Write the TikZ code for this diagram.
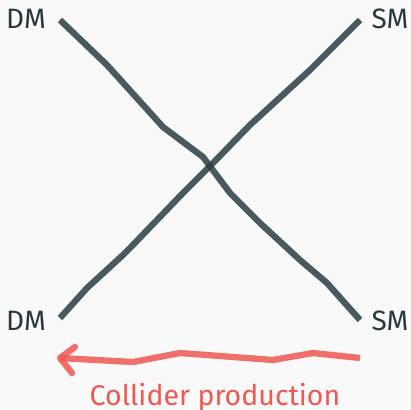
\documentclass[tikz,border=0pt]{standalone}
\usepackage{fontspec}
\setmainfont{Fira Sans}
\definecolor{bgpaper}{HTML}{F9F9F9}
\definecolor{slateink}{HTML}{2B3F43}
\definecolor{labelink}{HTML}{28383C}
\definecolor{penred}{HTML}{EE5951}
\begin{document}
\begin{tikzpicture}[x=1pt,y=-1pt,
  particle/.style={font=\fontsize{28}{33}\selectfont, text=labelink, inner sep=0pt},
  leg/.style={draw=slateink, draw opacity=0.85, line width=6.3pt, line cap=butt, line join=round},
  pen/.style={draw=penred, draw opacity=0.85, line width=6.3pt, line join=round}]
  % canvas
  \fill[bgpaper] (0,0) rectangle (411,409);
  \useasboundingbox (0,0) rectangle (411,409);

  % particle labels
  \node[particle] (dmtop) at (26,19) {DM};
  \node[particle] (smtop) at (390,19) {SM};
  \node[particle] (dmbot) at (26,321) {DM};
  \node[particle] (smbot) at (390,321) {SM};

  % line ends next to the labels
  \coordinate (a1) at (60,20);
  \coordinate (a2) at (360,320);
  \coordinate (b1) at (60,318);
  \coordinate (b2) at (360,20);

  % hand-drawn crossing lines
  \path[leg] (a1) -- (107,65) -- (163,127) -- (203,157) -- (230,193)
             -- (260,223) -- (300,260) -- (327,283) -- (a2);
  \path[leg] (b1) -- (87,288) -- (123,255) -- (130,248) -- (183,193)
             -- (213,163) -- (250,125) -- (310,70) -- (b2);

  % collider production arrow
  \coordinate (arrs) at (360,358);
  \coordinate (arre) at (60,358);
  \path[pen, line cap=butt] (arrs) -- (313,353) -- (273,360) -- (180,353)
            -- (133,362) -- (arre);
  \path[pen, line cap=round] (75,347) -- (arre) -- (72,373);

  \node[font=\fontsize{28.5}{34}\selectfont, text=penred, inner sep=0pt, anchor=base]
       (collider) at (215,405) {Collider production};
\end{tikzpicture}
\end{document}
